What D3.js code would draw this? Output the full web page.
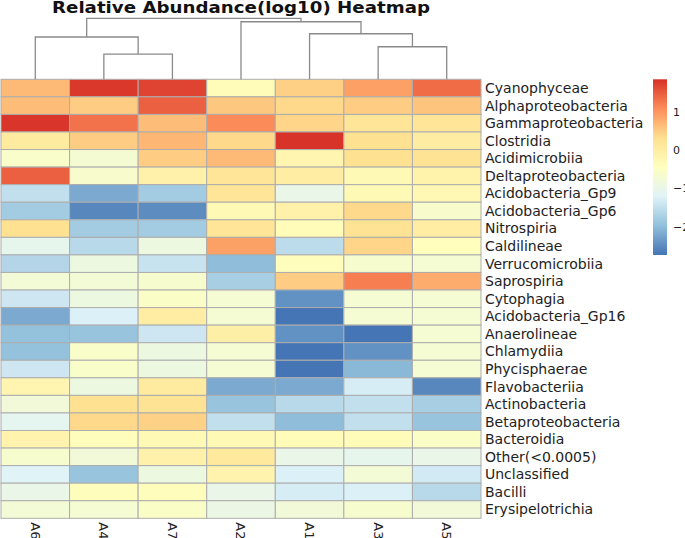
<!DOCTYPE html>
<html>
<head>
<meta charset="utf-8">
<script src="https://cdn.jsdelivr.net/npm/d3@7"></script>
<style>
  html, body { margin: 0; padding: 0; background: #fff; }
  svg { display: block; font-family: "DejaVu Sans", Verdana, sans-serif; }
</style>
</head>
<body>
<svg id="chart" width="685" height="538"></svg>
<script>
// columns, in dendrogram order
const samples = ['A6', 'A4', 'A7', 'A2', 'A1', 'A3', 'A5'];

const taxa = [
  'Cyanophyceae', 'Alphaproteobacteria', 'Gammaproteobacteria', 'Clostridia',
  'Acidimicrobiia', 'Deltaproteobacteria', 'Acidobacteria_Gp9', 'Acidobacteria_Gp6',
  'Nitrospiria', 'Caldilineae', 'Verrucomicrobiia', 'Saprospiria', 'Cytophagia',
  'Acidobacteria_Gp16', 'Anaerolineae', 'Chlamydiia', 'Phycisphaerae',
  'Flavobacteriia', 'Actinobacteria', 'Betaproteobacteria', 'Bacteroidia',
  'Other(<0.0005)', 'Unclassified', 'Bacilli', 'Erysipelotrichia'
];

// log10 relative abundance (scaled), one row per taxon, columns follow `samples`
const values = [
  [0.68, 1.78, 1.68, -0.35, 0.46, 0.91, 1.35],
  [0.65, 0.50, 1.45, 0.55, 0.38, 0.50, 0.57],
  [1.80, 1.30, 0.65, 1.10, 0.42, 0.20, 0.20],
  [0.05, 0.50, 0.70, 0.38, 1.82, 0.30, 0.02],
  [-0.60, -0.72, 0.50, 0.68, -0.20, 0.30, 0.25],
  [1.45, -0.62, -0.10, 0.20, 0.00, -0.30, -0.12],
  [-1.50, -2.20, -1.80, 0.20, -1.00, -0.30, -0.25],
  [-1.80, -2.55, -2.50, -0.30, -0.10, 0.38, -0.62],
  [0.30, -1.80, -1.80, 0.20, -0.35, 0.25, 0.00],
  [-1.05, -1.60, -0.90, 0.90, -1.55, 0.42, -0.42],
  [-1.65, -0.90, -1.45, -2.00, -0.40, -0.65, -0.70],
  [-0.75, -0.75, -0.65, -1.75, 0.50, 1.20, 0.80],
  [-1.40, -0.90, -0.55, -0.70, -2.45, -0.70, -0.70],
  [-2.20, -1.25, 0.00, -0.70, -2.74, -0.70, -0.70],
  [-1.95, -1.90, -1.40, -0.05, -2.45, -2.74, -0.70],
  [-1.95, -0.60, -0.90, -0.70, -2.74, -2.45, -0.70],
  [-1.40, -0.60, -0.90, -0.70, -2.74, -2.05, -0.70],
  [-0.20, -0.90, 0.05, -2.20, -2.20, -1.30, -2.55],
  [-0.80, 0.30, 0.25, -1.90, -1.60, -1.50, -1.75],
  [-1.10, 0.38, 0.45, -1.50, -2.00, -1.50, -1.90],
  [-0.15, -0.40, -0.30, -0.30, -0.35, -0.35, -0.55],
  [-0.65, -0.80, -0.10, 0.10, -1.00, -1.05, -1.00],
  [-1.20, -1.90, -0.90, -0.15, -1.25, -0.75, -1.35],
  [-1.00, -0.40, -0.40, -1.00, -1.30, -1.25, -1.60],
  [-0.75, -0.70, -0.55, -0.95, -0.80, -0.65, -0.80]
];

// column clustering: nested merges with their heights
const columnTree = {
  height: 3.0, children: [
    { height: 2.08, children: [
      { name: 'A6' },
      { height: 1.24, children: [{ name: 'A4' }, { name: 'A7' }] }
    ] },
    { height: 2.83, children: [
      { name: 'A2' },
      { height: 2.24, children: [
        { name: 'A1' },
        { height: 1.6, children: [{ name: 'A3' }, { name: 'A5' }] }
      ] }
    ] }
  ]
};

const palette = ['#4575B4', '#91BFDB', '#E0F3F8', '#FFFFBF', '#FEE090', '#FC8D59', '#D73027'];
const colorDomain = [-2.74, 1.845];
const legendTicks = [-2, -1, 0, 1];

const title = 'Relative Abundance(log10) Heatmap';

const svg = d3.select('#chart');

const grid = { left: 1, right: 481, top: 79.3, bottom: 518.3 };

const x = d3.scaleBand().domain(samples).range([grid.left, grid.right]);
const y = d3.scaleBand().domain(taxa).range([grid.top, grid.bottom]);

const stops = d3.range(palette.length).map(i =>
  colorDomain[0] + (colorDomain[1] - colorDomain[0]) * i / (palette.length - 1));
const color = d3.scaleLinear().domain(stops).range(palette).interpolate(d3.interpolateRgb);

// title
svg.append('text')
  .attr('x', (grid.left + grid.right) / 2)
  .attr('y', 12.5)
  .attr('text-anchor', 'middle')
  .attr('font-weight', 'bold')
  .attr('font-size', 15)
  .attr('fill', '#111')
  .attr('textLength', 378)
  .attr('lengthAdjust', 'spacingAndGlyphs')
  .text(title);

// cells
const cells = [];
values.forEach((row, i) => row.forEach((v, j) => cells.push({ taxon: taxa[i], sample: samples[j], v })));

svg.append('g')
  .selectAll('rect')
  .data(cells)
  .join('rect')
  .attr('x', d => x(d.sample))
  .attr('y', d => y(d.taxon))
  .attr('width', x.bandwidth())
  .attr('height', y.bandwidth())
  .attr('fill', d => color(d.v))
  .attr('stroke', '#adadad')
  .attr('stroke-width', 1);

// dendrogram
const root = d3.hierarchy(columnTree);
const h = d3.scaleLinear().domain([0, root.data.height]).range([grid.top, 18.3]);

root.eachAfter(node => {
  node.px = node.children
    ? d3.mean(node.children, c => c.px)
    : x(node.data.name) + x.bandwidth() / 2;
  node.py = h(node.data.height || 0);
});

const dendro = svg.append('g')
  .attr('fill', 'none')
  .attr('stroke', '#8a8a8a')
  .attr('stroke-width', 1.3);

root.descendants().filter(n => n.children).forEach(n => {
  const [a, b] = n.children;
  dendro.append('path')
    .attr('d', `M${a.px},${a.py}V${n.py}H${b.px}V${b.py}`);
});

// row labels
svg.append('g')
  .selectAll('text')
  .data(taxa)
  .join('text')
  .attr('x', grid.right + 4)
  .attr('y', d => y(d) + y.bandwidth() / 2)
  .attr('dy', '0.35em')
  .attr('font-size', 14)
  .attr('fill', '#222')
  .text(d => d);

// column labels
svg.append('g')
  .selectAll('text')
  .data(samples)
  .join('text')
  .attr('transform', d => `translate(${x(d) + x.bandwidth() / 2},${grid.bottom + 4}) rotate(90)`)
  .attr('dy', '0.35em')
  .attr('font-size', 13)
  .attr('fill', '#222')
  .text(d => d);

// colour legend
const legend = { x: 653, width: 14, top: 79.3, bottom: 255 };
const ly = d3.scaleLinear().domain(colorDomain).range([legend.bottom, legend.top]);

const grad = svg.append('defs').append('linearGradient')
  .attr('id', 'ramp')
  .attr('x1', 0).attr('y1', 1).attr('x2', 0).attr('y2', 0);
grad.selectAll('stop')
  .data(stops)
  .join('stop')
  .attr('offset', (d, i) => i / (stops.length - 1))
  .attr('stop-color', d => color(d));

svg.append('rect')
  .attr('x', legend.x)
  .attr('y', legend.top)
  .attr('width', legend.width)
  .attr('height', legend.bottom - legend.top)
  .attr('fill', 'url(#ramp)');

const axis = svg.append('g')
  .attr('transform', `translate(${legend.x + legend.width + 6},0)`)
  .call(d3.axisRight(ly).tickValues(legendTicks).tickSize(0).tickFormat(d3.format('d')));
axis.select('.domain').remove();
axis.selectAll('text')
  .attr('x', 0)
  .attr('font-family', '"DejaVu Sans", sans-serif')
  .attr('font-size', 11)
  .attr('fill', '#222');
</script>
</body>
</html>
